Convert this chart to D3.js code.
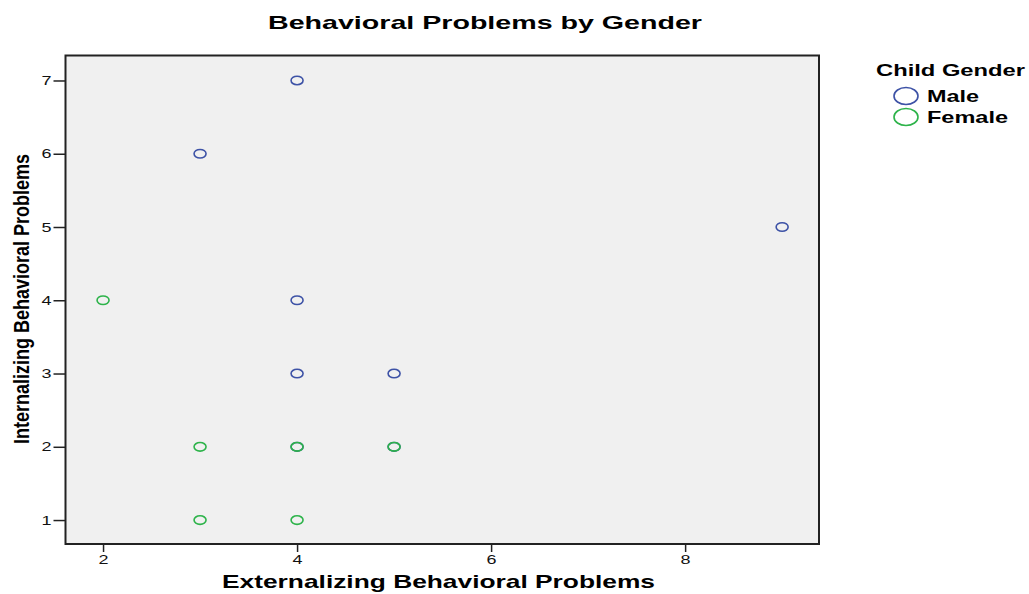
<!DOCTYPE html>
<html><head><meta charset="utf-8">
<script src="https://cdn.jsdelivr.net/npm/d3@7"></script>
<style>body{margin:0;background:#fff}</style>
</head><body>
<svg id="c" width="1029" height="594"></svg>
<script>
const maleX = [4, 3, 9, 4, 4, 5, 4, 5];
const maleY = [7, 6, 5, 4, 3, 3, 2, 2];
const femaleX = [2, 3, 4, 5, 3, 4];
const femaleY = [4, 2, 2, 2, 1, 1];
const xTicks = [2, 4, 6, 8];
const yTicks = [1, 2, 3, 4, 5, 6, 7];
const seriesNames = ["Male", "Female"];
const legendWidths = [52, 81];
const colors = ["#3d52a6", "#2db34a"];

const svg = d3.select("#c");
const L = 65.5, R = 819, T = 55.5, B = 544;
const x = d3.scaleLinear().domain([1.613, 9.38]).range([L, R]);
const y = d3.scaleLinear().domain([0.673, 7.341]).range([B, T]);
const font = "'Liberation Sans', Arial, sans-serif";

svg.append("rect").attr("x", L).attr("y", T).attr("width", R - L).attr("height", B - T)
  .attr("fill", "#f0f0f0");

const xa = svg.append("g").attr("transform", `translate(0,${B})`)
  .call(d3.axisBottom(x).tickValues(xTicks).tickSize(8).tickPadding(3).tickFormat(d3.format("d")));
const ya = svg.append("g").attr("transform", `translate(${L},0)`)
  .call(d3.axisLeft(y).tickValues(yTicks).tickSize(12).tickPadding(2).tickFormat(d3.format("d")));
[xa, ya].forEach(a => {
  a.attr("font-size", null).attr("font-family", null);
  a.select(".domain").remove();
  a.selectAll("line").attr("stroke", "#222").attr("stroke-width", 1.5);
  a.selectAll("text").style("font-family", font).style("font-size", "13px").attr("fill", "#111")
    .attr("textLength", 10).attr("lengthAdjust", "spacingAndGlyphs");
});

svg.append("rect").attr("x", L).attr("y", T).attr("width", R - L).attr("height", B - T)
  .attr("fill", "none").attr("stroke", "#222").attr("stroke-width", 2);

const male = maleX.map((v, i) => ({x: v, y: maleY[i]}));
const female = femaleX.map((v, i) => ({x: v, y: femaleY[i]}));
[[male, colors[0]], [female, colors[1]]].forEach(([data, col]) => {
  svg.append("g").selectAll("ellipse").data(data).join("ellipse")
    .attr("cx", d => x(d.x)).attr("cy", d => y(d.y))
    .attr("rx", 6).attr("ry", 4.3)
    .attr("fill", "none").attr("stroke", col).attr("stroke-width", 1.6);
});

svg.append("text").attr("x", 485).attr("y", 29).attr("text-anchor", "middle")
  .attr("font-family", font).attr("font-weight", "bold").attr("font-size", 19)
  .attr("textLength", 434).attr("lengthAdjust", "spacingAndGlyphs")
  .text("Behavioral Problems by Gender");

svg.append("text").attr("x", 438.5).attr("y", 588).attr("text-anchor", "middle")
  .attr("font-family", font).attr("font-weight", "bold").attr("font-size", 19)
  .attr("textLength", 433).attr("lengthAdjust", "spacingAndGlyphs")
  .text("Externalizing Behavioral Problems");

svg.append("text").attr("transform", "translate(29,299) rotate(-90)").attr("text-anchor", "middle")
  .attr("font-family", font).attr("font-weight", "bold").attr("font-size", 22)
  .attr("textLength", 290).attr("lengthAdjust", "spacingAndGlyphs")
  .text("Internalizing Behavioral Problems");

svg.append("text").attr("x", 876).attr("y", 76)
  .attr("font-family", font).attr("font-weight", "bold").attr("font-size", 17)
  .attr("textLength", 149).attr("lengthAdjust", "spacingAndGlyphs")
  .text("Child Gender");
seriesNames.forEach((n, i) => {
  const cy = 96 + i * 21;
  svg.append("ellipse").attr("cx", 906).attr("cy", cy).attr("rx", 12).attr("ry", 8.5)
    .attr("fill", "none").attr("stroke", colors[i]).attr("stroke-width", 1.6);
  svg.append("text").attr("x", 927).attr("y", cy + 6)
    .attr("font-family", font).attr("font-weight", "bold").attr("font-size", 17)
    .attr("textLength", legendWidths[i]).attr("lengthAdjust", "spacingAndGlyphs")
    .text(n);
});
</script>
</body></html>
